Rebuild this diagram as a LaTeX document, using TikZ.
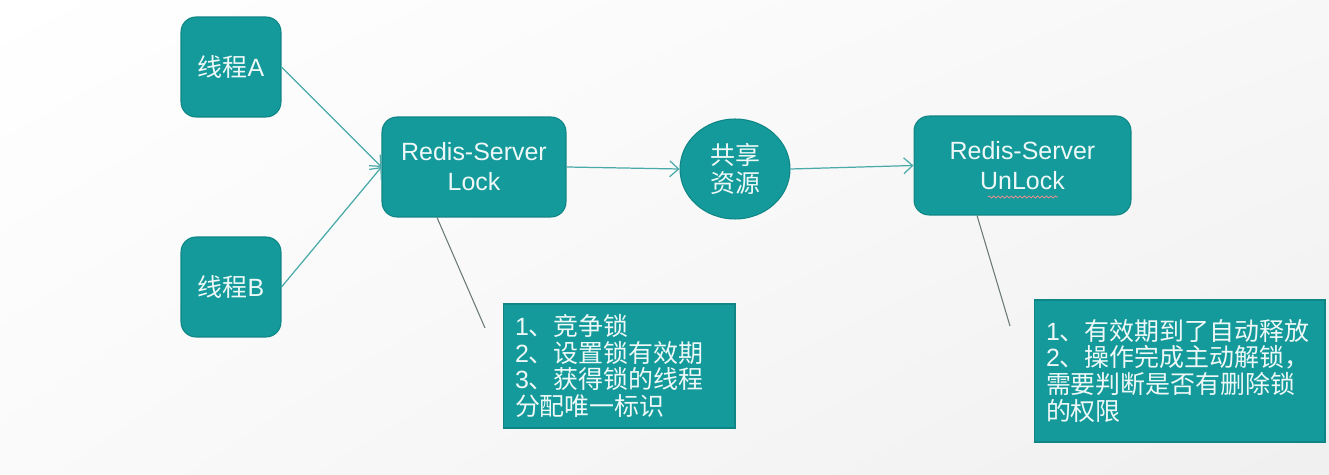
\documentclass[tikz,border=0pt]{standalone}
\usepackage{fontspec}
\setmainfont{Liberation Sans}
\newfontfamily\cjk{Noto Sans CJK SC}
\usetikzlibrary{shapes.geometric,arrows.meta,decorations.pathmorphing,shadings}
\definecolor{tealfill}{HTML}{149A9A}
\definecolor{tealedge}{HTML}{0F8585}
\definecolor{txt}{HTML}{EEF8F8}
\definecolor{arrowc}{HTML}{4AAAAA}
\definecolor{calloutc}{HTML}{6A7878}
\begin{document}
\begin{tikzpicture}[x=0.02cm,y=-0.02cm,
  base/.style={fill=tealfill,draw=tealedge,line width=0.6pt,text=txt,
    font=\fontsize{14.2pt}{17pt}\selectfont,align=center,inner sep=0pt},
  rbox/.style={base,rectangle,rounded corners=0.3cm},
  notebox/.style={base,rectangle,align=left,inner xsep=0.24cm,
    font=\fontsize{14.2pt}{15.3pt}\selectfont},
  flow/.style={draw=arrowc,line width=0.7pt,-{Straight Barb[length=5pt,width=9pt]}},
  callout/.style={draw=calloutc,line width=0.6pt}]
% background
\shade[upper left=white,lower left=black!2,upper right=black!3,lower right=black!6] (0,0) rectangle (1329,475);
% nodes
\node[rbox,minimum width=2cm,minimum height=2cm] (A) at (231,67) {{\cjk 线程}A};
\node[rbox,minimum width=2cm,minimum height=2cm] (B) at (231,287) {{\cjk 线程}B};
\node[rbox,minimum width=3.68cm,minimum height=2cm] (lock) at (474,167) {Redis-Server\\Lock};
\node[base,ellipse,minimum width=2.2cm,minimum height=2cm] (res) at (735,169) {{\cjk 共享}\\[-1pt]{\cjk 资源}};
\node[rbox,minimum width=4.34cm,minimum height=1.98cm] (unlock) at (1022.5,165.5) {Redis-Server\\UnLock};
\node[notebox,minimum width=4.64cm,minimum height=2.48cm,text width=4.16cm] (n1) at (619,366)
  {1{\cjk 、竞争锁}\\2{\cjk 、设置锁有效期}\\3{\cjk 、获得锁的线程}\\{\cjk 分配唯一标识}};
\node[notebox,minimum width=5.82cm,minimum height=2.84cm,text width=5.34cm] (n2) at (1179.5,371)
  {1{\cjk 、有效期到了自动释放}\\2{\cjk 、操作完成主动解锁，}\\{\cjk 需要判断是否有删除锁}\\{\cjk 的权限}};
% squiggle under UnLock
\draw[red!45!white,line width=0.4pt,decorate,decoration={snake,amplitude=0.6pt,segment length=2.5pt}]
  (988,197) -- (1058,197);
% connectors
\draw[flow] (A.east) -- (lock.west);
\draw[flow] (B.east) -- (lock.west);
\draw[flow] (lock.east) -- (res.west);
\draw[flow] (res.east) -- (unlock.west);
\coordinate (c1) at (485,328);
\coordinate (c2) at (1010,326);
\draw[callout] ([xshift=-0.74cm]lock.south) -- (c1);
\draw[callout] ([xshift=-0.91cm]unlock.south) -- (c2);
\end{tikzpicture}
\end{document}
